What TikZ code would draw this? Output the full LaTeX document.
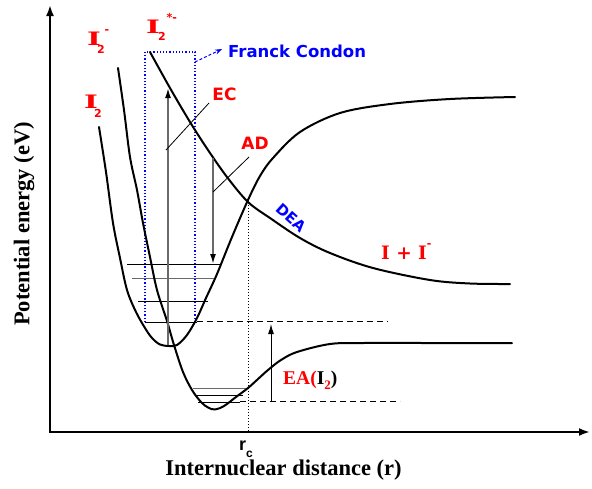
\documentclass[tikz,border=0pt]{standalone}
\usepackage{fontspec}
\usepackage{graphicx}
\setmainfont{Liberation Serif}
\newfontfamily\labsans{DejaVu Sans}
\newfontfamily\labserif{DejaVu Serif}
\newfontfamily\rcfont{Liberation Sans}
\usetikzlibrary{arrows.meta}
\definecolor{lblred}{RGB}{255,0,0}
\definecolor{lblblue}{RGB}{0,0,255}
\definecolor{arrgray}{RGB}{105,105,105}
\newcommand\Iwide{\scalebox{1.6}[1]{\labserif\bfseries I}}
\newcommand\smallsans[1]{{\labsans\bfseries\fontsize{11}{11}\selectfont #1}}
\begin{document}
\begin{tikzpicture}[x=1pt,y=-1pt,
  curve/.style={line width=2pt,line join=round,line cap=round},
  axis/.style={line width=2.4pt,{Latex[length=11pt,width=8pt]}-{Latex[length=11pt,width=8pt]}},
  level/.style={line width=1pt},
  glevel/.style={line width=1pt,arrgray},
  grayarrow/.style={line width=1.6pt,arrgray,-{Latex[length=10pt,width=6pt,color=black]}},
  blackarrow/.style={line width=1pt,-{Latex[length=10pt,width=6pt]}},
  pointer/.style={line width=0.8pt},
  fcbox/.style={lblblue,line width=1.2pt,dotted},
  rcline/.style={line width=1pt,dotted},
  eline/.style={line width=1pt,dash pattern=on 6pt off 4pt},
  redlbl/.style={text=lblred,font=\labsans\bfseries\fontsize{17}{17}\selectfont,inner sep=0pt},
  ilbl/.style={text=lblred,font=\fontsize{18.5}{18.5}\selectfont,inner sep=0pt,anchor=base west},
  axlbl/.style={font=\bfseries\fontsize{22.5}{22.5}\selectfont,inner sep=0pt}
]
\useasboundingbox (0,0) rectangle (592,488);

% axes
\coordinate (ytop) at (50,5);
\coordinate (orig) at (50,432);
\coordinate (xend) at (590,432);
\draw[axis] (ytop) |- (xend);

% vibrational levels, I2 well
\draw[level] (127,264) -- (220,264);
\draw[glevel] (132,278) -- (215,278);
\draw[level] (138,301) -- (208,301);
\draw[level] (145,322) -- (197,322);
% vibrational levels, I2- well
\draw[glevel] (193,388) -- (247,388);
\draw[level] (195,395) -- (243,395);
\draw[level] (198,402) -- (240,402);

% Franck-Condon region
\draw[fcbox] (145,322) -- (145,52) -- (195,52) -- (195,322);
\coordinate (fcs) at (195,62);
\coordinate (fce) at (222,49);
\draw[lblblue,line width=1pt,dash pattern=on 3pt off 2pt,-{Stealth[length=7pt,width=5pt]}] (fcs) -- (fce);
\node[text=lblblue,font=\labsans\bfseries\fontsize{16.5}{16.5}\selectfont,anchor=base west,inner sep=0pt] (fc) at (228,57) {Franck Condon};

% dashed energy lines
\draw[eline] (197,321) -- (388,321);
\draw[eline] (240,401) -- (400,401);

% r_c dotted line
\coordinate (cross) at (248,202);
\coordinate (rcbot) at (248,432);
\draw[rcline] (cross) -- (rcbot);

% curves
\draw[curve] plot[smooth,tension=0.55] coordinates {(99,127) (106,172) (113,223) (120,258) (127,290) (136,312) (145,328) (152,338) (160,344.5) (169,346) (177,345) (187,335) (197,318) (206,298) (217,274) (232,237) (248,200) (260,176) (273,158) (300,132) (340,113) (390,104) (450,99) (515,97)};
\draw[curve] plot[smooth,tension=0.55] coordinates {(118,68) (124,110) (130,157) (137,190) (143,223) (150,257) (157,290) (167,321) (174,345) (183,372) (192,390) (201,402) (208,407.5) (215,409.5) (224,406) (236,397) (248,388) (258,379) (268,370) (281,360) (297,352) (330,344) (363,343) (430,343) (512,343)};
\draw[curve] plot[smooth,tension=0.55] coordinates {(150,52) (170,88) (190,122) (208,150) (227,177) (248,202) (270,218) (300,238) (330,253) (373,268) (430,280) (470,283.5) (510,284)};

% EC arrow
\coordinate (ecb) at (168,345);
\coordinate (ect) at (168,88);
\draw[grayarrow] (ecb) -- (ect);
\coordinate (ecp1) at (166,150);
\coordinate (ecp2) at (209,103);
\draw[pointer] (ecp1) -- (ecp2);
\node[redlbl] (ec) at (224.5,94.5) {EC};

% AD arrow
\coordinate (adt) at (213,158);
\coordinate (adb) at (213,264);
\draw[grayarrow] (adt) -- (adb);
\coordinate (adp1) at (213,192);
\coordinate (adp2) at (249,157);
\draw[pointer] (adp1) -- (adp2);
\node[redlbl] (ad) at (255,143) {AD};

% EA arrow
\coordinate (eab) at (271,401);
\coordinate (eat) at (271,324);
\draw[blackarrow] (eab) -- (eat);
\node[font=\bfseries\fontsize{19.5}{19.5}\selectfont,anchor=base west,inner sep=0pt] (ea) at (283,384)
  {\textcolor{lblred}{EA(}I\raisebox{-5pt}{\fontsize{13}{13}\selectfont\textcolor{lblred}{2}})};

% state labels
\node[ilbl] (lim) at (87,45) {\Iwide\kern-4pt\raisebox{-8pt}{\smallsans{2}}\raisebox{12pt}{\smallsans{-}}};
\node[ilbl] (lis) at (146,33) {\Iwide\kern-2pt\raisebox{-7pt}{\smallsans{2}}\kern1pt\raisebox{12pt}{\smallsans{*-}}};
\node[ilbl] (li) at (84,108) {\Iwide\kern-4pt\raisebox{-9pt}{\smallsans{2}}};
\node[ilbl] (lii) at (381,259) {\labserif\bfseries I + I\raisebox{12pt}{\smallsans{-}}};
\node[text=lblblue,font=\labsans\bfseries\fontsize{15}{15}\selectfont,rotate=-42,inner sep=0pt] (dea) at (291,218) {DEA};

% axis labels
\node[font=\rcfont\bfseries\fontsize{18}{18}\selectfont,anchor=base west,inner sep=0pt] (rc) at (239,450) {r\raisebox{-7pt}{\fontsize{12}{12}\selectfont c}};
\node[axlbl] (xlab) at (283.5,470) {Internuclear distance (r)};
\node[axlbl,rotate=90] (ylab) at (24,224) {Potential energy (eV)};
\end{tikzpicture}
\end{document}
